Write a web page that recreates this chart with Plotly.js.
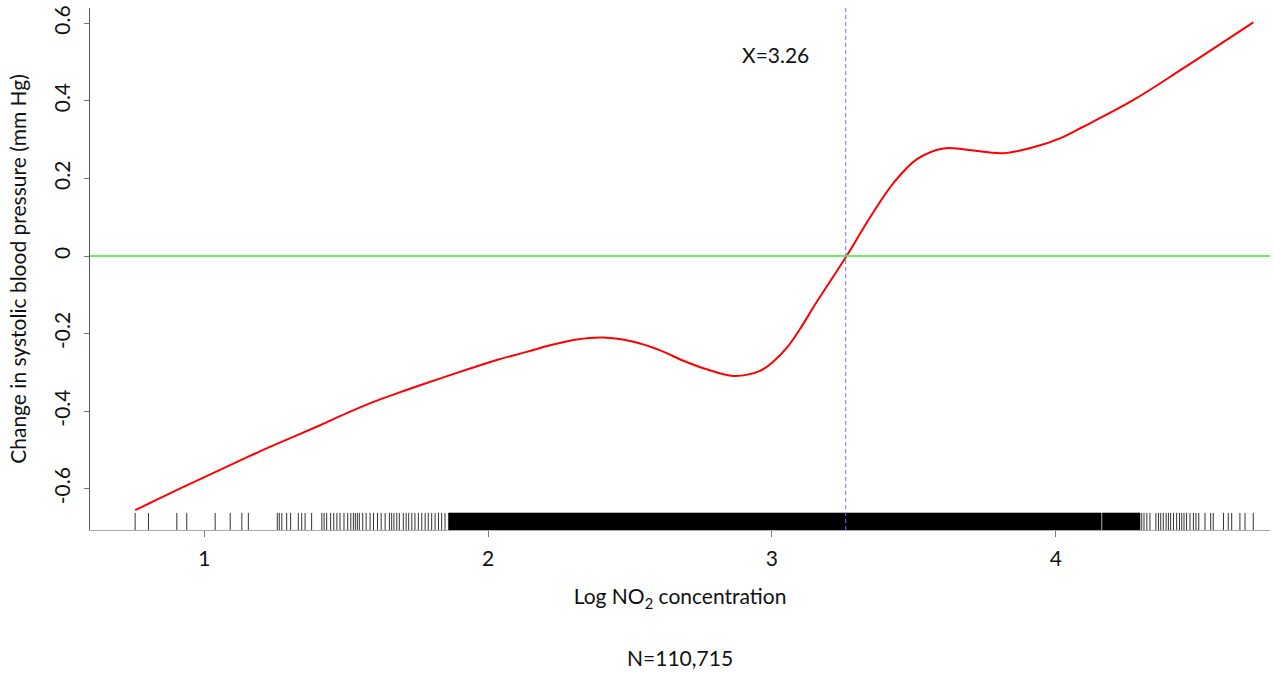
<!DOCTYPE html>
<html>
<head>
<meta charset="utf-8">
<script src="https://cdn.plot.ly/plotly-3.0.1.min.js"></script>
<style>html,body{margin:0;padding:0;background:#fff;}#chart{width:1274px;height:673px;}</style>
</head>
<body>
<div id="chart"></div>
<script>
// Fitted curve
const curveX = [0.756, 0.820, 0.938, 1.055, 1.149, 1.243, 1.408, 1.502, 1.596, 1.678, 1.760, 1.936, 2.030, 2.136, 2.218, 2.312, 2.406, 2.512, 2.606, 2.688, 2.770, 2.864, 2.958, 3.005, 3.052, 3.099, 3.158, 3.263, 3.346, 3.428, 3.510, 3.604, 3.686, 3.815, 3.921, 4.015, 4.097, 4.274, 4.450, 4.696];
const curveY = [-0.655, -0.632, -0.591, -0.551, -0.519, -0.488, -0.436, -0.405, -0.376, -0.354, -0.333, -0.290, -0.268, -0.247, -0.230, -0.215, -0.210, -0.221, -0.243, -0.270, -0.292, -0.309, -0.296, -0.272, -0.237, -0.188, -0.118, 0.0, 0.100, 0.188, 0.249, 0.277, 0.274, 0.265, 0.280, 0.303, 0.333, 0.402, 0.484, 0.602];

// Rug marks (individual observations outside the dense band)
const rugX = [0.756, 0.803, 0.903, 0.938, 1.038, 1.091, 1.132, 1.155,
  1.257, 1.264, 1.273, 1.290, 1.304, 1.331, 1.343, 1.355, 1.378,
  1.414, 1.422, 1.431, 1.445, 1.456, 1.467, 1.478, 1.492, 1.505, 1.516, 1.525, 1.532, 1.539, 1.546,
  1.558, 1.570, 1.584, 1.596, 1.610, 1.623, 1.637, 1.652, 1.660, 1.668, 1.678, 1.687, 1.701, 1.711,
  1.720, 1.731, 1.742, 1.754, 1.766, 1.778, 1.789, 1.801, 1.813, 1.825, 1.836, 1.848,
  4.303, 4.311, 4.321, 4.332, 4.353, 4.362, 4.370, 4.379, 4.389, 4.397, 4.405, 4.415, 4.426, 4.436,
  4.444, 4.452, 4.461, 4.473, 4.485, 4.494, 4.504, 4.526, 4.546, 4.555, 4.591, 4.608, 4.620, 4.649, 4.667, 4.696];
// Dense rug bands (observations too dense to separate)
const rugBandStart = [1.860, 4.164];
const rugBandEnd = [4.160, 4.297];

const thresholdX = 3.26;
const xTicks = [1, 2, 3, 4];
const yTicks = [-0.6, -0.4, -0.2, 0, 0.2, 0.4, 0.6];
const yTickText = ["-0.6", "-0.4", "-0.2", "0", "0.2", "0.4", "0.6"];

const yMin = -0.706, yMax = 0.639;
const rugTop = -0.662;

const rx = [], ry = [];
rugX.forEach(v => { rx.push(v, v, null); ry.push(yMin, rugTop, null); });
const bx = [], by = [];
rugBandStart.forEach((s, i) => {
  const e = rugBandEnd[i];
  bx.push(s, e, e, s, s, null); by.push(yMin, yMin, rugTop, rugTop, yMin, null);
});

const font = "Lato, 'Open Sans', sans-serif";
const fs = 21;

const traces = [
  {x: bx, y: by, type: 'scatter', mode: 'lines', fill: 'toself', fillcolor: '#000', line: {color: '#000', width: 0.5}, hoverinfo: 'skip', showlegend: false},
  {x: rx, y: ry, type: 'scatter', mode: 'lines', line: {color: '#333', width: 1}, hoverinfo: 'skip', showlegend: false},
  {x: curveX, y: curveY, type: 'scatter', mode: 'lines', line: {color: '#ff0000', width: 2, shape: 'spline', smoothing: 1}, showlegend: false}
];

const layout = {
  width: 1274, height: 673,
  margin: {l: 90, r: 4, t: 8, b: 143},
  paper_bgcolor: '#fff', plot_bgcolor: '#fff',
  font: {family: font, size: fs, color: '#111'},
  xaxis: {
    range: [0.597, 4.755], tickvals: xTicks, ticktext: xTicks.map(String),
    showgrid: false, zeroline: false, showline: true, linecolor: '#aaa', linewidth: 1,
    ticks: 'outside', ticklen: 6, tickcolor: '#777', tickfont: {size: fs, family: font},
    ticklabelstandoff: 4,
    title: {text: 'Log NO<sub>2</sub> concentration', font: {size: fs, family: font}, standoff: 20}
  },
  yaxis: {
    range: [yMin, yMax], tickvals: yTicks, ticktext: yTickText, tickangle: -90,
    showgrid: false, zeroline: false, showline: true, linecolor: '#555', linewidth: 1,
    ticks: 'outside', ticklen: 5, tickcolor: '#777', tickfont: {size: fs, family: font},
    ticklabelstandoff: 6,
    title: {text: 'Change in systolic blood pressure (mm Hg)', font: {size: fs, family: font}, standoff: 16}
  },
  shapes: [
    {type: 'line', xref: 'paper', x0: 0, x1: 1, yref: 'y', y0: 0, y1: 0, line: {color: '#66ee66', width: 2}},
    {type: 'line', xref: 'x', x0: thresholdX, x1: thresholdX, yref: 'paper', y0: 0, y1: 1, line: {color: '#6f6fff', width: 1, dash: '4px,3px'}}
  ],
  annotations: [
    {x: 3.014, y: 0.518, xref: 'x', yref: 'y', text: 'X=3.26', showarrow: false, font: {size: fs, family: font, color: '#111'}},
    {x: 0.5, y: -0.245, xref: 'paper', yref: 'paper', xanchor: 'center', yanchor: 'middle', text: 'N=110,715', showarrow: false, font: {size: fs, family: font, color: '#111'}}
  ]
};

Plotly.newPlot('chart', traces, layout, {displayModeBar: false, staticPlot: true});
</script>
</body>
</html>
